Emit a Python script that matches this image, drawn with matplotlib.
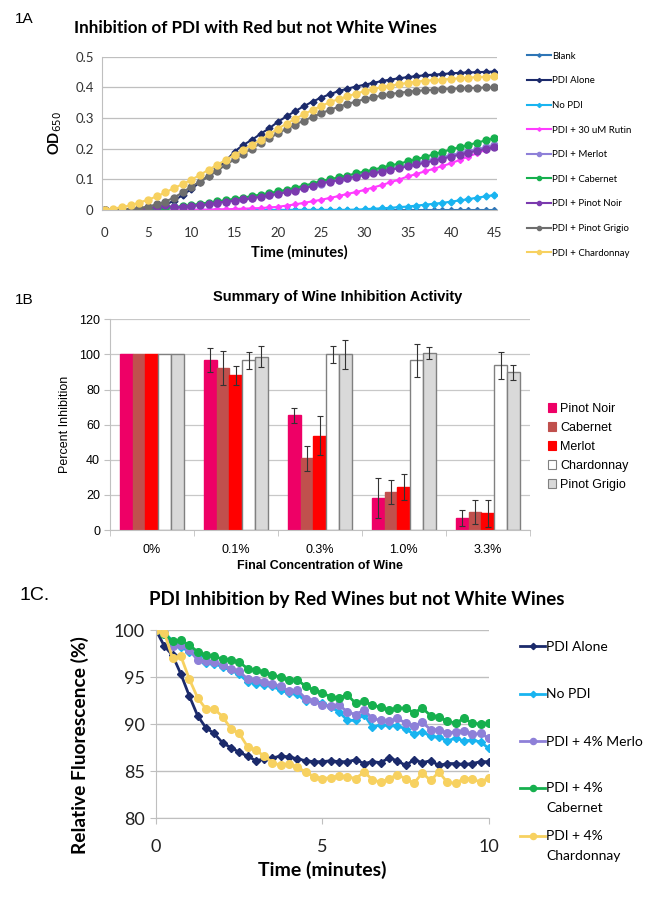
import numpy as np
import matplotlib
matplotlib.use("Agg")
import matplotlib.pyplot as plt
from matplotlib.patches import Patch
from matplotlib.legend_handler import HandlerLine2D

plt.rcParams["font.family"] = ["Lato", "DejaVu Sans"]

# ---------------- data: 1A (OD650 vs time, 1 min steps) ----------------
time_a = [0, 1, 2, 3, 4, 5, 6, 7, 8, 9, 10, 11, 12, 13, 14, 15, 16, 17, 18, 19, 20, 21, 22,
          23, 24, 25, 26, 27, 28, 29, 30, 31, 32, 33, 34, 35, 36, 37, 38, 39, 40, 41, 42, 43, 44, 45]
blank = [0.000, 0.000, 0.000, 0.000, 0.000, 0.000, 0.000, 0.000, 0.000, 0.000, 0.000, 0.000,
         0.000, 0.000, 0.000, 0.000, 0.000, 0.000, 0.000, 0.000, 0.000, 0.000, 0.000, 0.000,
         0.000, 0.000, 0.000, 0.000, 0.000, 0.000, 0.000, 0.000, 0.000, 0.000, 0.000, 0.000,
         0.000, 0.000, 0.000, 0.000, 0.000, 0.000, 0.000, 0.000, 0.000, 0.000]
pdi_alone = [0.000, 0.000, 0.000, 0.001, 0.002, 0.005, 0.010, 0.016, 0.030, 0.048, 0.068, 0.090,
             0.112, 0.135, 0.160, 0.190, 0.212, 0.228, 0.248, 0.266, 0.287, 0.305, 0.322, 0.338,
             0.353, 0.366, 0.377, 0.387, 0.395, 0.402, 0.408, 0.414, 0.420, 0.425, 0.429, 0.433,
             0.436, 0.439, 0.441, 0.443, 0.445, 0.447, 0.448, 0.449, 0.450, 0.451]
no_pdi = [0.000, 0.000, 0.000, 0.000, 0.000, 0.000, 0.000, 0.000, 0.000, 0.000, 0.000, 0.000,
          0.000, 0.000, 0.000, 0.000, 0.000, 0.000, 0.000, 0.000, 0.000, 0.000, 0.000, 0.000,
          0.000, 0.000, 0.000, 0.000, 0.000, 0.001, 0.002, 0.004, 0.005, 0.007, 0.009, 0.011,
          0.014, 0.017, 0.020, 0.023, 0.027, 0.031, 0.035, 0.040, 0.044, 0.049]
rutin = [0.000, 0.000, 0.000, 0.000, 0.000, 0.000, 0.000, 0.000, 0.000, 0.000, 0.000, 0.001,
         0.001, 0.002, 0.002, 0.003, 0.004, 0.005, 0.006, 0.008, 0.010, 0.014, 0.018, 0.023,
         0.028, 0.033, 0.039, 0.045, 0.052, 0.058, 0.065, 0.073, 0.081, 0.090, 0.099, 0.109,
         0.117, 0.126, 0.134, 0.143, 0.152, 0.163, 0.174, 0.185, 0.196, 0.207]
merlot_a = [0.000, 0.000, 0.000, 0.001, 0.002, 0.003, 0.005, 0.008, 0.009, 0.011, 0.014, 0.017,
            0.020, 0.024, 0.027, 0.031, 0.035, 0.039, 0.044, 0.049, 0.054, 0.060, 0.066, 0.072,
            0.079, 0.086, 0.093, 0.099, 0.105, 0.111, 0.117, 0.123, 0.129, 0.135, 0.141, 0.147,
            0.153, 0.159, 0.166, 0.172, 0.179, 0.185, 0.192, 0.198, 0.204, 0.210]
cabernet_a = [0.000, 0.000, 0.000, 0.001, 0.001, 0.002, 0.004, 0.006, 0.009, 0.012, 0.016, 0.020,
              0.024, 0.028, 0.032, 0.036, 0.040, 0.045, 0.050, 0.055, 0.060, 0.066, 0.072, 0.079,
              0.086, 0.094, 0.100, 0.106, 0.112, 0.119, 0.125, 0.131, 0.138, 0.145, 0.151, 0.158,
              0.165, 0.173, 0.181, 0.189, 0.197, 0.205, 0.212, 0.219, 0.227, 0.234]
pinot_noir_a = [0.000, 0.000, 0.000, 0.001, 0.002, 0.004, 0.010, 0.016, 0.008, 0.010, 0.013, 0.016,
                0.018, 0.024, 0.027, 0.030, 0.034, 0.038, 0.043, 0.047, 0.052, 0.058, 0.063, 0.070,
                0.078, 0.087, 0.092, 0.097, 0.103, 0.108, 0.114, 0.119, 0.125, 0.131, 0.136, 0.142,
                0.148, 0.154, 0.160, 0.167, 0.174, 0.180, 0.187, 0.193, 0.199, 0.205]
pinot_grigio_a = [0.000, 0.000, 0.001, 0.003, 0.006, 0.011, 0.018, 0.027, 0.040, 0.057, 0.076, 0.092,
                  0.109, 0.128, 0.147, 0.165, 0.183, 0.200, 0.217, 0.233, 0.250, 0.264, 0.278, 0.291,
                  0.303, 0.315, 0.326, 0.336, 0.345, 0.353, 0.361, 0.367, 0.373, 0.378, 0.382, 0.385,
                  0.388, 0.390, 0.392, 0.394, 0.395, 0.396, 0.397, 0.398, 0.399, 0.399]
chardonnay_a = [0.000, 0.004, 0.009, 0.015, 0.024, 0.033, 0.044, 0.057, 0.071, 0.084, 0.098, 0.114,
                0.131, 0.147, 0.163, 0.180, 0.196, 0.212, 0.228, 0.246, 0.265, 0.281, 0.297, 0.312,
                0.326, 0.339, 0.351, 0.361, 0.370, 0.379, 0.387, 0.394, 0.400, 0.405, 0.410, 0.414,
                0.418, 0.421, 0.423, 0.425, 0.427, 0.429, 0.431, 0.433, 0.434, 0.435]

# ---------------- data: 1B (percent inhibition) ----------------
concentrations = ["0%", "0.1%", "0.3%", "1.0%", "3.3%"]
wines_b = ["Pinot Noir", "Cabernet", "Merlot", "Chardonnay", "Pinot Grigio"]
pinot_noir_b = [100, 96.7, 65.3, 18.4, 6.8]
cabernet_b = [100, 92.4, 40.8, 21.6, 10.4]
merlot_b = [100, 88.2, 53.7, 24.3, 9.5]
chardonnay_b = [100, 96.7, 100, 96.7, 93.9]
pinot_grigio_b = [100, 98.8, 100, 100.9, 89.9]
pinot_noir_err = [0, 6.7, 4.5, 11.4, 4.5]
cabernet_err = [0, 9.8, 7.0, 6.8, 7.0]
merlot_err = [0, 5.4, 11.0, 7.4, 7.8]
chardonnay_err = [0, 4.8, 5.0, 9.5, 7.7]
pinot_grigio_err = [0, 6.1, 8.0, 3.5, 4.3]

# ---------------- data: 1C (relative fluorescence, 15 s steps) ----------------
time_c = [0, 0.25, 0.5, 0.75, 1, 1.25, 1.5, 1.75, 2, 2.25, 2.5, 2.75, 3, 3.25, 3.5, 3.75, 4,
          4.25, 4.5, 4.75, 5, 5.25, 5.5, 5.75, 6, 6.25, 6.5, 6.75, 7, 7.25, 7.5, 7.75, 8,
          8.25, 8.5, 8.75, 9, 9.25, 9.5, 9.75, 10]
pdi_alone_c = [100.0, 98.3, 97.3, 95.3, 93.0, 90.9, 89.6, 89.0, 88.0, 87.5, 87.0, 86.6, 86.1, 86.3,
               86.4, 86.6, 86.5, 86.3, 86.1, 86.0, 86.0, 86.1, 86.0, 86.0, 86.2, 85.8, 86.0, 85.9,
               86.4, 86.1, 85.6, 86.2, 85.9, 86.1, 85.6, 85.8, 85.8, 85.7, 85.8, 86.0, 86.0]
no_pdi_c = [100.0, 99.8, 98.8, 98.2, 97.7, 97.2, 96.5, 96.4, 96.1, 95.7, 95.3, 94.5, 94.3, 94.2,
            94.0, 93.6, 93.3, 93.2, 92.4, 92.5, 92.2, 91.8, 91.3, 90.4, 90.4, 91.0, 89.7, 89.9,
            89.9, 89.8, 89.5, 88.9, 89.2, 88.7, 88.6, 88.2, 88.5, 88.2, 88.3, 88.1, 87.4]
merlo_c = [100.0, 99.7, 98.3, 98.4, 97.9, 96.8, 96.7, 96.6, 96.3, 95.9, 95.6, 94.8, 94.7, 94.5,
           94.3, 94.0, 93.5, 93.6, 92.7, 92.5, 92.0, 91.9, 92.0, 91.3, 91.0, 91.5, 90.6, 90.4,
           90.3, 90.6, 90.1, 89.8, 90.2, 89.4, 89.4, 89.0, 89.2, 89.3, 88.9, 89.0, 88.5]
cabernet_c = [100.0, 99.6, 98.8, 98.9, 98.4, 97.7, 97.3, 97.2, 96.9, 96.8, 96.6, 95.9, 95.7, 95.5,
              95.2, 95.0, 94.7, 94.7, 94.0, 93.6, 93.3, 92.9, 92.8, 93.1, 92.2, 92.4, 92.0, 91.8,
              91.5, 91.7, 91.7, 91.2, 91.7, 90.9, 90.8, 90.3, 90.1, 90.6, 90.1, 90.0, 90.1]
chardonnay_c = [100.0, 99.7, 97.0, 97.2, 94.8, 92.8, 91.6, 91.6, 90.8, 89.5, 89.0, 87.6, 87.2, 86.6,
                85.9, 85.6, 85.8, 85.4, 84.9, 84.4, 84.2, 84.3, 84.5, 84.4, 84.2, 84.9, 84.1, 83.8,
                84.2, 84.6, 84.2, 83.7, 84.8, 84.0, 84.9, 83.8, 83.7, 84.2, 84.2, 83.8, 84.3]

GRID = "#BFBFBF"


class FirstLineHandler(HandlerLine2D):
    # put the legend line beside the first text line of a two-line label
    def create_artists(self, legend, orig_handle, xdescent, ydescent, width, height,
                       fontsize, trans):
        return super().create_artists(legend, orig_handle, xdescent, ydescent - 14,
                                      width, height, fontsize, trans)


fig = plt.figure(figsize=(6.54, 8.97), dpi=100)

# ======================= 1A =======================
ax1 = fig.add_axes([0.156, 0.766, 0.604, 0.171])
series_a = [
    ("Blank", blank, "#2E75B6", "D", 3.0),
    ("PDI Alone", pdi_alone, "#1B2A6B", "D", 3.5),
    ("No PDI", no_pdi, "#19B4F0", "D", 3.5),
    ("PDI + 30 uM Rutin", rutin, "#FF3CFF", "D", 3.0),
    ("PDI + Merlot", merlot_a, "#8E80D8", "o", 5),
    ("PDI + Cabernet", cabernet_a, "#16B04E", "o", 5),
    ("PDI + Pinot Noir", pinot_noir_a, "#7B3AAE", "o", 5),
    ("PDI + Pinot Grigio", pinot_grigio_a, "#6E6E6E", "o", 5),
    ("PDI + Chardonnay", chardonnay_a, "#F7D160", "o", 5),
]
for name, vals, col, mk, ms in series_a:
    ax1.plot(time_a, vals, color=col, marker=mk, markersize=ms, linewidth=1.5, label=name)
ax1.set_xlim(-0.3, 45.3)
ax1.set_ylim(0, 0.5)
ax1.set_xticks([0, 5, 10, 15, 20, 25, 30, 35, 40, 45])
ax1.set_yticks([0, 0.1, 0.2, 0.3, 0.4, 0.5])
ax1.set_yticklabels(["0", "0.1", "0.2", "0.3", "0.4", "0.5"])
ax1.yaxis.grid(True, color=GRID, linewidth=0.9)
ax1.set_axisbelow(True)
for s in ["top", "right"]:
    ax1.spines[s].set_visible(False)
for s in ["left", "bottom"]:
    ax1.spines[s].set_color(GRID)
ax1.tick_params(length=0, labelsize=9.5, colors="#333333", pad=6)
ax1.tick_params(axis="x", pad=12)
ax1.set_xlabel("Time (minutes)", fontsize=10.5, fontweight="bold", labelpad=5)
ax1.set_ylabel("OD$_{650}$", fontsize=10.5, fontweight="bold", labelpad=8)
ax1.legend(loc="upper left", bbox_to_anchor=(0.792, 0.952), bbox_transform=fig.transFigure,
           frameon=False, fontsize=6.9, labelspacing=1.63, handlelength=2.5,
           handletextpad=0.15, markerscale=0.6)
fig.text(0.39, 0.969, "Inhibition of PDI with Red but not White Wines", ha="center",
         va="center", fontsize=12.3, fontweight="bold")
fig.text(0.022, 0.979, "1A", fontsize=11, family="Liberation Sans", va="center")

# ======================= 1B =======================
ax2 = fig.add_axes([0.168, 0.409, 0.642, 0.235])
x = np.arange(len(concentrations))
w = 0.152
vals_b = [pinot_noir_b, cabernet_b, merlot_b, chardonnay_b, pinot_grigio_b]
errs_b = [pinot_noir_err, cabernet_err, merlot_err, chardonnay_err, pinot_grigio_err]
faces = ["#EE0066", "#C0504D", "#FF0000", "#FFFFFF", "#D9D9D9"]
edges = ["#EE0066", "#C0504D", "#FF0000", "#808080", "#808080"]
for i, (v, e) in enumerate(zip(vals_b, errs_b)):
    pos = x + (i - 2) * w
    ax2.bar(pos, v, width=w, color=faces[i], edgecolor=edges[i], linewidth=1.0,
            label=wines_b[i], zorder=2)
    ee = np.array(e, dtype=float)
    mask = ee > 0
    ax2.errorbar(pos[mask], np.array(v)[mask], yerr=ee[mask], fmt="none", ecolor="#333333",
                 elinewidth=0.8, capsize=2, capthick=0.8, zorder=3)
ax2.set_xlim(-0.5, 4.5)
ax2.set_ylim(0, 120)
ax2.set_yticks(range(0, 121, 20))
ax2.set_xticks(x)
ax2.set_xticklabels(concentrations)
ax2.set_xticks(np.arange(-0.5, 5, 1), minor=True)
ax2.yaxis.grid(True, color="#C8C8C8", linewidth=0.9, zorder=0)
ax2.set_axisbelow(True)
for s in ["top", "right"]:
    ax2.spines[s].set_visible(False)
for s in ["left", "bottom"]:
    ax2.spines[s].set_color("#C0C0C0")
ax2.tick_params(axis="y", length=4, color="#C0C0C0", labelsize=9, pad=3)
ax2.tick_params(axis="x", which="major", length=0, labelsize=9, pad=10)
ax2.tick_params(axis="x", which="minor", length=4, color="#C0C0C0")
for lab in ax2.get_xticklabels() + ax2.get_yticklabels():
    lab.set_family("Liberation Sans")
ax2.set_ylabel("Percent Inhibition", fontsize=9, family="Liberation Sans", labelpad=6)
ax2.set_xlabel("Final Concentration of Wine", fontsize=9, fontweight="bold",
               family="Liberation Sans", labelpad=3)
hb = [Patch(facecolor=faces[i], edgecolor=edges[i], linewidth=0.8) for i in range(5)]
ax2.legend(hb, wines_b, loc="upper left", bbox_to_anchor=(0.82, 0.563),
           bbox_transform=fig.transFigure, frameon=False, prop={"family": "Liberation Sans", "size": 9},
           handlelength=0.7, handleheight=0.7, handletextpad=0.3, labelspacing=0.55)
fig.text(0.517, 0.669, "Summary of Wine Inhibition Activity", ha="center", va="center",
         fontsize=10.5, fontweight="bold", family="Liberation Sans")
fig.text(0.022, 0.666, "1B", fontsize=11, family="Liberation Sans", va="center")

# ======================= 1C =======================
ax3 = fig.add_axes([0.2385, 0.088, 0.509, 0.2096])
series_c = [
    ("PDI Alone", pdi_alone_c, "#1B2A6B", "D", 4),
    ("No PDI", no_pdi_c, "#19B4F0", "D", 4),
    ("PDI + 4% Merlo", merlo_c, "#8E80D8", "o", 5.5),
    ("PDI + 4%\nCabernet", cabernet_c, "#16B04E", "o", 5.5),
    ("PDI + 4%\nChardonnay", chardonnay_c, "#F7D160", "o", 5.5),
]
lines_c = []
for name, vals, col, mk, ms in series_c:
    ln, = ax3.plot(time_c, vals, color=col, marker=mk, markersize=ms, linewidth=2.0, label=name)
    lines_c.append(ln)
ax3.set_xlim(0, 10)
ax3.set_ylim(80, 100)
ax3.set_xticks([0, 5, 10])
ax3.set_yticks([80, 85, 90, 95, 100])
ax3.yaxis.grid(True, color=GRID, linewidth=1.0)
ax3.set_axisbelow(True)
for s in ["top", "right"]:
    ax3.spines[s].set_visible(False)
for s in ["left", "bottom"]:
    ax3.spines[s].set_color(GRID)
ax3.tick_params(length=4, color=GRID, labelsize=13, colors="#222222", pad=11)
ax3.tick_params(axis="y", pad=4)
ax3.set_xlabel("Time (minutes)", fontsize=14, fontweight="bold", labelpad=4)
ax3.set_ylabel("Relative Fluorescence (%)", fontsize=13.8, fontweight="bold")
ax3.yaxis.set_label_coords(-0.2, 0.39)
leg_kw = dict(bbox_transform=fig.transFigure, frameon=False, fontsize=10, handlelength=1.8,
              handletextpad=0.1, markerscale=0.8, loc="upper left")
leg3a = ax3.legend(lines_c[:3], [s[0] for s in series_c[:3]],
                   bbox_to_anchor=(0.776, 0.299), labelspacing=2.53, **leg_kw)
ax3.add_artist(leg3a)
leg3b = ax3.legend(lines_c[3:], [s[0] for s in series_c[3:]],
                   bbox_to_anchor=(0.776, 0.1425), labelspacing=1.19,
                   handler_map={ln: FirstLineHandler() for ln in lines_c[3:]}, **leg_kw)
for t in leg3b.get_texts():
    t.set_linespacing(1.79)
fig.text(0.546, 0.332, "PDI Inhibition by Red Wines but not White Wines", ha="center",
         va="center", fontsize=13.5, fontweight="bold")
fig.text(0.03, 0.336, "1C.", fontsize=14, family="Liberation Sans", va="center")

fig.savefig("out.png", dpi=100)
